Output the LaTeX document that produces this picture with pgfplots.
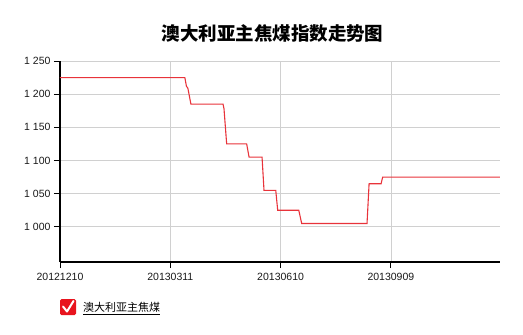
\documentclass[border=0pt]{standalone}
\usepackage{pgfplots}
\pgfplotsset{compat=1.18}
\usepackage{fontspec}
\setmainfont{Liberation Sans}
\newfontfamily\cjk{Noto Sans CJK SC}
\definecolor{lineRed}{HTML}{E8333A}
\definecolor{boxRed}{HTML}{E8141E}
\definecolor{gridGray}{HTML}{D0D0D0}
\begin{document}
\begin{tikzpicture}[x=1pt,y=1pt]
\useasboundingbox (0pt,0pt) rectangle (523pt,-335pt);
% title
\node[font=\cjk\bfseries\fontsize{18.5}{21}\selectfont] at (272.5pt,-33pt) {澳大利亚主焦煤指数走势图};
\begin{axis}[
  at={(60pt,-262pt)}, anchor=south west,
  scale only axis, width=440pt, height=201pt,
  xmin=0, xmax=363, ymin=947, ymax=1250,
  axis x line*=bottom, axis y line*=left,
  axis line style={line width=2pt, black, -},
  xtick={0,91,182,273},
  xticklabels={20121210,20130311,20130610,20130909},
  ytick={1000,1050,1100,1150,1200,1250},
  yticklabels={1 000,1 050,1 100,1 150,1 200,1 250},
  tick align=outside, major tick length=6pt,
  tick style={black, line width=0.9pt},
  grid=major, major grid style={gridGray, line width=0.7pt},
  ticklabel style={font=\fontsize{10.5}{12}\selectfont, text=black!90},
  xticklabel style={yshift=-2pt},
  clip=false,
]
\addplot[lineRed, line width=1.1pt] coordinates {
(0,1225) (103,1225) (104.3,1212) (105.5,1209) (108,1185)
(134.5,1185) (135.3,1178) (137.5,1125)
(154,1125) (156,1105)
(166.7,1105) (168.3,1055)
(178,1055) (179.6,1025)
(197,1025) (199.4,1005)
(253.3,1005) (255,1065)
(264.9,1065) (266.2,1075)
(363,1075)
};
\end{axis}
% legend
\fill[boxRed, rounded corners=1.5pt] (60pt,-299pt) rectangle (76pt,-315pt);
\draw[white, line width=2pt, line cap=round, line join=round] (63pt,-306.5pt) -- (67pt,-311.5pt) -- (73.5pt,-301pt);
\node[anchor=west, font=\cjk\fontsize{11}{13}\selectfont, inner sep=0pt] (lg) at (83pt,-307.5pt) {澳大利亚主焦煤};
\draw[black, line width=0.6pt] ([yshift=-1.2pt]lg.south west) -- ([yshift=-1.2pt]lg.south east);
\end{tikzpicture}
\end{document}
